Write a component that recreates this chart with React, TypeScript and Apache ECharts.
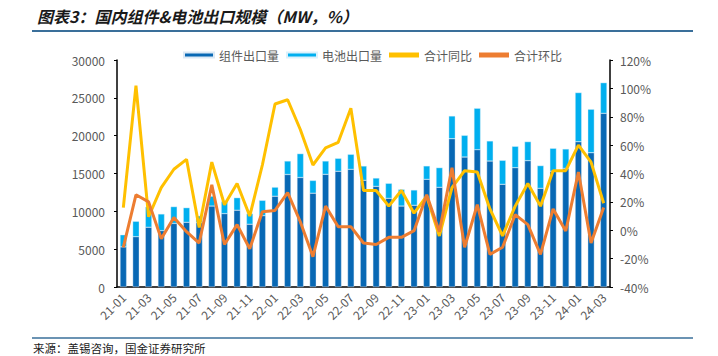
import React, { useEffect, useRef } from "react";
import * as echarts from "echarts";

const months = [
  "21-01", "21-02", "21-03", "21-04", "21-05", "21-06", "21-07", "21-08", "21-09", "21-10", "21-11", "21-12",
  "22-01", "22-02", "22-03", "22-04", "22-05", "22-06", "22-07", "22-08", "22-09", "22-10", "22-11", "22-12",
  "23-01", "23-02", "23-03", "23-04", "23-05", "23-06", "23-07", "23-08", "23-09", "23-10", "23-11", "23-12",
  "24-01", "24-02", "24-03",
];

const moduleExports = [
  5300, 6650, 7900, 7450, 8400, 8550, 8500, 10700, 9700, 10150, 8300, 9430,
  12000, 14870, 14470, 12400, 14890, 15290, 15550, 14100, 13300, 11720, 10700, 10800,
  14230, 13170, 19600, 17180, 18150, 16650, 13570, 15770, 16700, 13040, 15300, 15680,
  19200, 17750, 22950,
];

const cellExports = [
  1600, 2030, 2700, 2200, 2220, 1930, 900, 1300, 1600, 1650, 1400, 2020,
  1190, 1780, 3150, 1680, 1760, 1710, 1980, 1890, 1100, 1980, 2200, 2020,
  1770, 2600, 3000, 2860, 5470, 2650, 3170, 2820, 2510, 3000, 3030, 2560,
  6490, 5740, 4050,
];

const yoy = [
  16, 102, 9.5, 30, 43, 50, 2, 48, 18, 33, 10, 46,
  89, 92, 71, 46, 58, 62, 86, 28, 28, 17, 28, 12,
  24, -4, 30, 42, 41, 15, -4, 17, 33, 17, 42, 42,
  60, 48, 19,
];

const mom = [
  -12, 25, 20, -6, 9, -1, -9, 32, -10, 4, -13, 13,
  14, 26.5, 6, -18.6, 17, 2.5, 2.5, -9, -10, -5, -5, -0.3,
  25, -1, 44, -12, 18, -17, -12, 11, 4, -17, 15, -0.5,
  41, -9, 16,
];

const leftTicks = { min: 0, max: 30000, interval: 5000 };
const rightTicks = { min: -40, max: 120, interval: 20 };

const FONT = "'Noto Sans CJK SC', 'Noto Sans', sans-serif";
const GRAY = "#595959";

export default function App() {
  const ref = useRef<HTMLDivElement>(null);

  useEffect(() => {
    if (!ref.current) return;
    const chart = echarts.init(ref.current, undefined, { renderer: "svg" });
    chart.setOption({
      animation: false,
      textStyle: { fontFamily: FONT },
      grid: { left: 117, right: 108, top: 60, bottom: 69 },
      legend: {
        left: 183,
        top: 49,
        padding: 0,
        itemWidth: 30,
        itemHeight: 5,
        itemGap: 7,
        textStyle: { fontSize: 12, color: GRAY, fontFamily: FONT },
        data: [
          { name: "组件出口量", icon: "rect" },
          { name: "电池出口量", icon: "rect" },
          { name: "合计同比", icon: "rect" },
          { name: "合计环比", icon: "rect" },
        ],
      },
      xAxis: {
        type: "category",
        data: months,
        axisLine: { lineStyle: { color: "#000", width: 1.5 } },
        axisTick: { inside: true, length: 4, interval: 1, lineStyle: { color: "#000" } },
        axisLabel: { interval: 1, rotate: 45, fontSize: 12, color: GRAY, margin: 8 },
      },
      yAxis: [
        {
          type: "value",
          ...leftTicks,
          axisLine: { show: true, lineStyle: { color: "#000", width: 1.5 } },
          axisTick: { show: true, length: 3, lineStyle: { color: "#000" } },
          splitLine: { show: false },
          axisLabel: { fontSize: 12, color: GRAY, margin: 12, formatter: (v: number) => String(v) },
        },
        {
          type: "value",
          ...rightTicks,
          axisLine: { show: true, lineStyle: { color: "#000", width: 1.5 } },
          axisTick: { show: true, length: 3, lineStyle: { color: "#000" } },
          splitLine: { show: false },
          axisLabel: { fontSize: 12, color: GRAY, margin: 10, formatter: "{value}%" },
        },
      ],
      series: [
        {
          name: "组件出口量",
          type: "bar",
          stack: "total",
          barWidth: 6.5,
          data: moduleExports,
          itemStyle: { color: "#0868B4", borderColor: "#dce9f5", borderWidth: 0.4 },
        },
        {
          name: "电池出口量",
          type: "bar",
          stack: "total",
          barWidth: 6.5,
          data: cellExports,
          itemStyle: { color: "#00AFEF", borderColor: "#dcf1fb", borderWidth: 0.4 },
        },
        {
          name: "合计同比",
          type: "line",
          yAxisIndex: 1,
          data: yoy,
          symbol: "none",
          lineStyle: { color: "#FFC000", width: 3 },
          itemStyle: { color: "#FFC000" },
        },
        {
          name: "合计环比",
          type: "line",
          yAxisIndex: 1,
          data: mom,
          symbol: "none",
          lineStyle: { color: "#ED7D31", width: 3 },
          itemStyle: { color: "#ED7D31" },
        },
      ],
      graphic: [
        {
          type: "text",
          left: 37,
          top: 8,
          style: {
            text: "图表3：国内组件&电池出口规模（MW，%）",
            font: `italic bold 16px ${FONT}`,
            fill: "#1a1a1a",
          },
        },
        {
          type: "line",
          shape: { x1: 32, y1: 31, x2: 693, y2: 31 },
          style: { stroke: "#3A6F9A", lineWidth: 2 },
        },
        {
          type: "line",
          shape: { x1: 32, y1: 338, x2: 693, y2: 338 },
          style: { stroke: "#3A6F9A", lineWidth: 1.5 },
        },
        {
          type: "text",
          x: 33,
          y: 348,
          style: {
            text: "来源：盖锡咨询，国金证券研究所",
            font: `11.5px ${FONT}`,
            fill: "#1a1a1a",
            verticalAlign: "middle",
          },
        },
      ],
    });
    return () => chart.dispose();
  }, []);

  return <div ref={ref} style={{ width: 718, height: 356, position: "absolute", left: 0, top: 0 }} />;
}
